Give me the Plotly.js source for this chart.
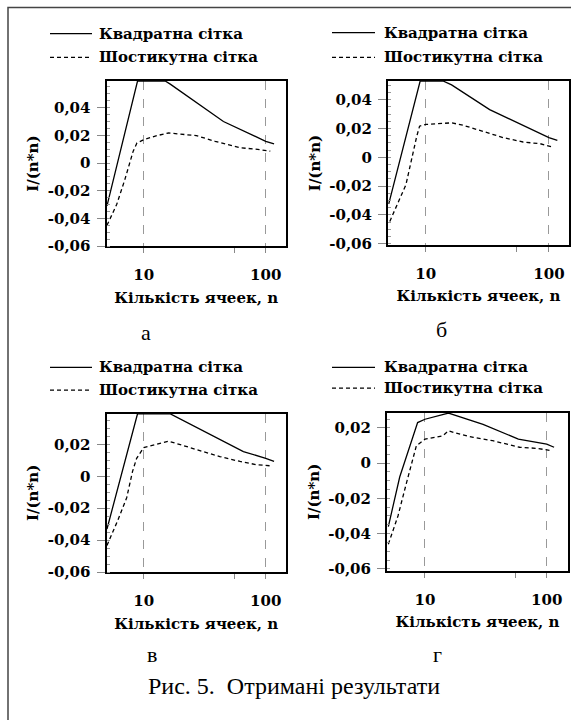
<!DOCTYPE html>
<html><head><meta charset="utf-8">
<script src="https://cdn.plot.ly/plotly-3.0.1.min.js"></script>
<style>html,body{margin:0;padding:0;background:#fff}#chart{width:571px;height:720px}</style>
</head><body><div id="chart"></div><script>
// ---- text ----
const seriesNames = ["Квадратна сітка", "Шостикутна сітка"];
const panelLabels = ["а", "б", "в", "г"];
const xTitle = "Кількість ячеек, n";
const yTitle = "I/(n*n)";
const caption = "Рис. 5.  Отримані результати";
const xTickVals = [10, 100];
const xTickText = ["10", "100"];
const xMinorTickVals = [55];
const yTickVals = [-0.06, -0.04, -0.02, 0, 0.02, 0.04];
const yTickText = ["-0,06", "-0,04", "-0,02", "0", "0,02", "0,04"];

// ---- data ----
// panel а
const nA_sq  = [5, 8.9, 15, 16.5, 45, 61.6, 100, 117];
const yA_sq  = [-0.031, 0.0593, 0.0593, 0.057, 0.030, 0.0245, 0.0157, 0.0138];
const nA_hex = [5, 6, 7, 8.2, 8.8, 10, 12.8, 16, 27, 38.5, 61.6, 81, 109];
const yA_hex = [-0.045, -0.030, -0.012, 0.0086, 0.0145, 0.0169, 0.0198, 0.0217, 0.0198, 0.0157, 0.011, 0.0102, 0.0086];
// panel б
const nB_sq  = [5, 9, 13.8, 16.2, 33, 61.6, 100, 117];
const yB_sq  = [-0.0324, 0.053, 0.053, 0.0503, 0.0331, 0.0221, 0.0136, 0.0117];
const nB_hex = [5.1, 6.9, 8.45, 8.9, 10, 16.2, 20, 26, 42.6, 61.6, 85, 108];
const yB_hex = [-0.0446, -0.019, 0.0147, 0.0216, 0.0228, 0.0239, 0.0223, 0.0193, 0.0136, 0.0106, 0.0094, 0.0071];
// panel в
const nC_sq  = [5, 8.9, 16.4, 45, 65.6, 100, 117];
const yC_sq  = [-0.033, 0.0392, 0.0392, 0.0216, 0.0155, 0.0113, 0.0093];
const nC_hex = [5, 6.1, 7.25, 8.1, 8.75, 10, 16, 27, 42, 61.6, 85, 109];
const yC_hex = [-0.0433, -0.028, -0.0134, 0.0031, 0.0113, 0.018, 0.022, 0.0169, 0.0124, 0.0093, 0.0072, 0.0066];
// panel г
const nD_sq  = [5, 6.2, 8.7, 10, 15.6, 30, 58.5, 100, 115];
const yD_sq  = [-0.036, -0.0079, 0.023, 0.0249, 0.0284, 0.022, 0.0136, 0.0108, 0.009];
const nD_hex = [5, 6, 7, 8.5, 10, 14, 15.6, 18, 25, 36, 60, 82, 110];
const yD_hex = [-0.046, -0.030, -0.012, 0.0099, 0.0136, 0.0155, 0.0183, 0.017, 0.0146, 0.0127, 0.009, 0.0084, 0.0071];

const panels = [
  {sqx: nA_sq, sqy: yA_sq, hx: nA_hex, hy: yA_hex},
  {sqx: nB_sq, sqy: yB_sq, hx: nB_hex, hy: yB_hex},
  {sqx: nC_sq, sqy: yC_sq, hx: nC_hex, hy: yC_hex},
  {sqx: nD_sq, sqy: yD_sq, hx: nD_hex, hy: yD_hex}
];

// ---- layout geometry (pixels) ----
const W = 571, H = 720;
const boxes = [
  {l: 106.5, r: 286, t: 82, b: 249.5, yr: [-0.0602, 0.0593], xr: [0.695, 2.166]},
  {l: 388, r: 569, t: 82, b: 248, yr: [-0.0609, 0.053], xr: [0.693, 2.163]},
  {l: 106.5, r: 286, t: 419, b: 579.3, yr: [-0.0600, 0.0392], xr: [0.695, 2.166]},
  {l: 387, r: 568, t: 418.3, b: 578, yr: [-0.0611, 0.0284], xr: [0.688, 2.175]}
];
const legendPos = [
  {x0: 50, x1: 92, tx: 97, y1: 34, y2: 58},
  {x0: 332, x1: 375, tx: 382, y1: 33, y2: 58},
  {x0: 50, x1: 92, tx: 97, y1: 372, y2: 395},
  {x0: 332, x1: 375, tx: 382, y1: 372, y2: 393}
];
const subLabelPos = [{x: 146, y: 337}, {x: 441, y: 334}, {x: 152, y: 663}, {x: 437, y: 663}];

const px = v => v / W;
const py = v => 1 - v / H;

const boldFont = {family: "DejaVu Serif", size: 15, weight: "bold", color: "#000"};
const subFont = {family: "Liberation Serif, Times New Roman, serif", size: 22, color: "#000"};
const capFont = {family: "Liberation Serif, Times New Roman, serif", size: 24, color: "#000"};

const traces = [];
const layout = {
  width: W, height: H,
  margin: {l: 0, r: 0, t: 0, b: 0},
  paper_bgcolor: "#fff", plot_bgcolor: "#fff",
  showlegend: false,
  shapes: [], annotations: []
};

panels.forEach((p, i) => {
  const sfx = i === 0 ? "" : String(i + 1);
  const bx = boxes[i];
  traces.push({x: p.sqx, y: p.sqy, xaxis: "x" + sfx, yaxis: "y" + sfx, mode: "lines",
    name: seriesNames[0], line: {color: "#000", width: 1.3}});
  traces.push({x: p.hx, y: p.hy, xaxis: "x" + sfx, yaxis: "y" + sfx, mode: "lines",
    name: seriesNames[1], line: {color: "#000", width: 1.3, dash: "4px,3px"}});
  layout["xaxis" + sfx] = {
    type: "log", range: bx.xr, domain: [px(bx.l), px(bx.r)], anchor: "y" + sfx,
    tickmode: "array", tickvals: xTickVals, ticktext: xTickText,
    ticks: "outside", ticklen: 5, tickcolor: "#888", ticklabelstandoff: 9,
    minor: {tickmode: "array", tickvals: xMinorTickVals, ticks: "outside", ticklen: 5, tickcolor: "#888", showgrid: false},
    showgrid: true, gridcolor: "#999", griddash: "dash", gridwidth: 1,
    showline: true, linecolor: "#000", linewidth: 2, mirror: true, zeroline: false,
    tickfont: boldFont, automargin: true,
    title: {text: xTitle, font: boldFont, standoff: 9}
  };
  layout["yaxis" + sfx] = {
    range: bx.yr, domain: [py(bx.b), py(bx.t)], anchor: "x" + sfx,
    tickmode: "array", tickvals: yTickVals, ticktext: yTickText,
    ticks: "outside", ticklen: 8, tickcolor: "#888", ticklabelstandoff: 3,
    minor: {dtick: 0.005, ticks: "inside", ticklen: 3, tickcolor: "#999", showgrid: false},
    showgrid: false, zeroline: false,
    showline: true, linecolor: "#000", linewidth: 2, mirror: true,
    tickfont: boldFont, automargin: true,
    title: {text: yTitle, font: boldFont, standoff: 5}
  };
  const lp = legendPos[i];
  layout.shapes.push({type: "line", xref: "paper", yref: "paper", x0: px(lp.x0), x1: px(lp.x1), y0: py(lp.y1), y1: py(lp.y1), line: {color: "#000", width: 1.3}});
  layout.shapes.push({type: "line", xref: "paper", yref: "paper", x0: px(lp.x0), x1: px(lp.x1), y0: py(lp.y2), y1: py(lp.y2), line: {color: "#000", width: 1.3, dash: "4px,3px"}});
  layout.annotations.push({text: seriesNames[0], xref: "paper", yref: "paper", x: px(lp.tx), y: py(lp.y1), xanchor: "left", yanchor: "middle", showarrow: false, font: boldFont});
  layout.annotations.push({text: seriesNames[1], xref: "paper", yref: "paper", x: px(lp.tx), y: py(lp.y2), xanchor: "left", yanchor: "middle", showarrow: false, font: boldFont});
  const sp = subLabelPos[i];
  layout.annotations.push({text: panelLabels[i], xref: "paper", yref: "paper", x: px(sp.x), y: py(sp.y), xanchor: "center", yanchor: "middle", showarrow: false, font: subFont});
});

layout.annotations.push({text: caption, xref: "paper", yref: "paper", x: px(294), y: py(695), xanchor: "center", yanchor: "middle", showarrow: false, font: capFont});
// outer frame
layout.shapes.push({type: "rect", xref: "paper", yref: "paper", x0: px(8), x1: 1.02, y0: -0.02, y1: py(7.5), line: {color: "#444", width: 1.5}, fillcolor: "rgba(0,0,0,0)", layer: "below"});

Plotly.newPlot("chart", traces, layout, {staticPlot: true});
</script></body></html>
